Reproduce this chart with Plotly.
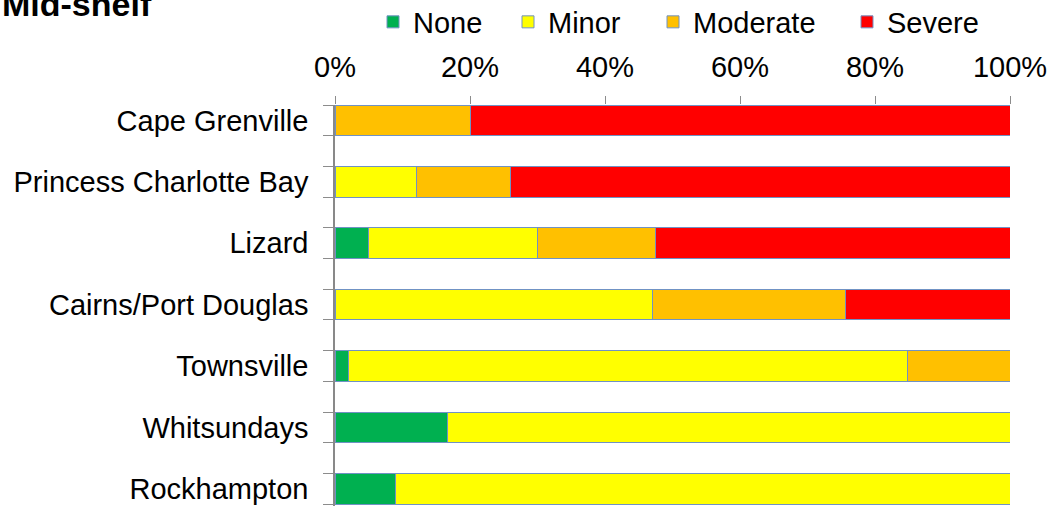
import plotly.graph_objects as go

categories = ["Cape Grenville", "Princess Charlotte Bay", "Lizard", "Cairns/Port Douglas",
              "Townsville", "Whitsundays", "Rockhampton"]
none_pct = [None, None, 5, None, 2, 16.6, 9]
minor_pct = [None, 12, 25, 47, 82.8, 83.4, 91]
moderate_pct = [20, 14, 17.5, 28.6, 15.2, None, None]
severe_pct = [80, 74, 52.5, 24.4, None, None, None]
x_ticks = [0, 20, 40, 60, 80, 100]
x_ticklabels = ["0%", "20%", "40%", "60%", "80%", "100%"]

series = [
    ("None", none_pct, "#00B050", "legend", 373),
    ("Minor", minor_pct, "#FFFF00", "legend2", 508),
    ("Moderate", moderate_pct, "#FFC000", "legend3", 653),
    ("Severe", severe_pct, "#FF0000", "legend4", 847),
]

W, H = 1052, 506
FONT = "Liberation Sans, Arial, sans-serif"
pos = list(range(len(categories)))

fig = go.Figure()
for name, vals, color, leg, _ in series:
    fig.add_trace(go.Bar(
        y=pos, x=vals, name=name, orientation="h", width=0.5,
        marker=dict(color=color, line=dict(color="rgb(112,146,196)", width=1)),
        legend=leg,
    ))

legend_layout = {}
for name, vals, color, leg, xpx in series:
    legend_layout[leg] = dict(
        orientation="h", xref="container", yref="container",
        x=xpx / W, y=1 - 22 / H, xanchor="left", yanchor="middle",
        font=dict(family=FONT, size=29, color="#000000"),
        bgcolor="rgba(0,0,0,0)", borderwidth=0,
    )

fig.update_layout(
    width=W, height=H,
    margin=dict(l=335, r=42, t=105, b=0),
    paper_bgcolor="white", plot_bgcolor="white",
    barmode="stack",
    showlegend=True,
    font=dict(family=FONT, color="#000000"),
    **legend_layout,
    xaxis=dict(
        side="top", range=[0, 100], tickmode="array", tickvals=x_ticks, ticktext=x_ticklabels,
        ticks="outside", ticklen=8, tickwidth=1, tickcolor="#8c8c8c",
        showgrid=False, zeroline=False, showline=False,
        tickfont=dict(family=FONT, size=29, color="#000000"),
        ticklabelstandoff=7,
        automargin=False,
    ),
    yaxis=dict(
        range=[6.28, -0.25], tickmode="array", tickvals=pos, ticktext=categories,
        ticks="", showgrid=False, zeroline=False,
        showline=True, linecolor="#898989", linewidth=1.5,
        tickfont=dict(family=FONT, size=29, color="#000000"),
        ticklabelstandoff=19,
        automargin=False,
        minor=dict(tickmode="array",
                   tickvals=[p + d for p in pos for d in (-0.25, 0.25)],
                   ticks="outside", ticklen=10, tickwidth=1, tickcolor="#8c8c8c",
                   showgrid=False),
    ),
    annotations=[dict(
        text="<b>Mid-shelf</b>", xref="paper", yref="paper",
        x=-335 / 675, y=(506 - 25) / 401, xanchor="left", yanchor="bottom",
        showarrow=False, font=dict(family=FONT, size=34, color="#000000"),
    )],
)

fig.write_html("out.html", config={"displayModeBar": False},
               post_script="document.body.style.margin='0';document.body.style.overflow='hidden';")
